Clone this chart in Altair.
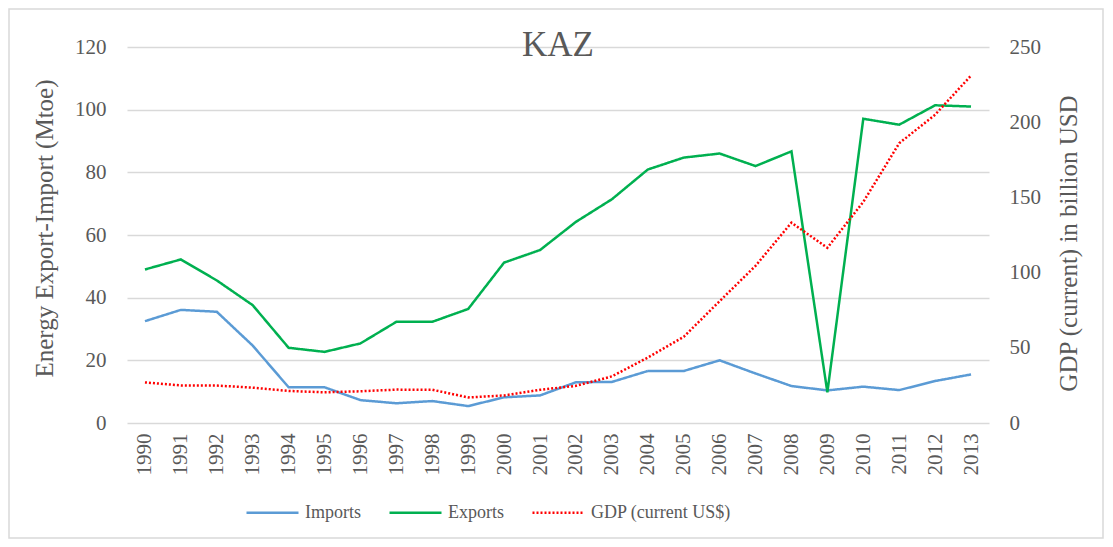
import altair as alt
import pandas as pd

years = ["1990", "1991", "1992", "1993", "1994", "1995", "1996", "1997", "1998", "1999",
         "2000", "2001", "2002", "2003", "2004", "2005", "2006", "2007", "2008", "2009",
         "2010", "2011", "2012", "2013"]
imports = [32.5, 36.1, 35.5, 24.7, 11.4, 11.4, 7.3, 6.3, 7.0, 5.4,
           8.2, 8.8, 13.0, 13.1, 16.6, 16.6, 20.0, 15.8, 11.8, 10.4,
           11.6, 10.5, 13.4, 15.5]
exports = [49.0, 52.2, 45.5, 37.6, 24.0, 22.7, 25.4, 32.3, 32.3, 36.4,
           51.2, 55.2, 64.2, 71.4, 80.9, 84.7, 86.0, 82.0, 86.7, 9.8,
           97.1, 95.2, 101.4, 101.0]
gdp = [27.0, 25.0, 24.9, 23.5, 21.3, 20.4, 21.1, 22.2, 22.1, 17.0,
       18.3, 22.1, 24.7, 31.0, 43.5, 57.3, 81.0, 104.5, 133.2, 116.5,
       147.0, 186.0, 205.0, 231.0]

series_names = ["Imports", "Exports", "GDP (current US$)"]
series_colors = ["#5B9BD5", "#00B050", "#FF0000"]
series_dash = [[1, 0], [1, 0], [2, 2]]
left_ticks = [0, 20, 40, 60, 80, 100, 120]
right_ticks = [0, 50, 100, 150, 200, 250]
chart_title = "KAZ"

rows = []
for name, vals in zip(series_names, [imports, exports, gdp]):
    for y, v in zip(years, vals):
        rows.append({"year": y, "series": name, "value": v})
df = pd.DataFrame(rows)

FONT = "Liberation Serif"
GREY = "#595959"

legend = alt.Legend(
    title=None, orient="none", direction="horizontal", legendX=118, legendY=438,
    symbolType="stroke", symbolSize=2704, symbolStrokeWidth=2.5,
    labelFont=FONT, labelFontSize=18, labelColor=GREY, labelOffset=5,
    columnPadding=23,
)
color = alt.Color("series:N", scale=alt.Scale(domain=series_names, range=series_colors), legend=legend)
dash = alt.StrokeDash("series:N", scale=alt.Scale(domain=series_names, range=series_dash), legend=legend)

x_enc = alt.X(
    "year:O", sort=years, scale=alt.Scale(type="point", padding=0.5),
    axis=alt.Axis(title=None, labelAngle=270, labelFont=FONT, labelFontSize=21, labelColor=GREY,
                  labelPadding=10, domain=False, ticks=False, grid=False),
)

border = alt.Chart(pd.DataFrame({"b": [0]})).mark_rect(
    fillOpacity=0, stroke="#d9d9d9", strokeWidth=1.5
).encode(x=alt.value(-118), x2=alt.value(976), y=alt.value(-38), y2=alt.value(491))

title = alt.Chart(pd.DataFrame({"t": [chart_title]})).mark_text(
    font=FONT, fontSize=35, color=GREY, align="center", baseline="alphabetic"
).encode(text="t:N", x=alt.value(431), y=alt.value(9))

left = alt.Chart(df).transform_filter(
    alt.FieldOneOfPredicate(field="series", oneOf=["Imports", "Exports"])
).mark_line(strokeWidth=2.5).encode(
    x=x_enc,
    y=alt.Y("value:Q", scale=alt.Scale(domain=[0, 120], nice=False),
            axis=alt.Axis(orient="left", values=left_ticks, title="Energy Export-Import (Mtoe)",
                          titleFont=FONT, titleFontSize=25, titleFontWeight="normal", titleColor=GREY,
                          titleAngle=270, titleX=-83, titleY=181, titleAlign="center", titleBaseline="middle",
                          labelFont=FONT, labelFontSize=21, labelColor=GREY, labelPadding=21,
                          domain=False, ticks=False, grid=True, gridColor="#d9d9d9", gridWidth=1.5)),
    color=color,
    strokeDash=dash,
)

right = alt.Chart(df).transform_filter(
    alt.FieldEqualPredicate(field="series", equal="GDP (current US$)")
).mark_line(strokeWidth=2.5).encode(
    x=x_enc,
    y=alt.Y("value:Q", scale=alt.Scale(domain=[0, 250], nice=False),
            axis=alt.Axis(orient="right", values=right_ticks, title="GDP (current) in billion USD",
                          titleFont=FONT, titleFontSize=25, titleFontWeight="normal", titleColor=GREY,
                          titleAngle=270, titleX=79, titleY=196, titleAlign="center", titleBaseline="middle",
                          labelFont=FONT, labelFontSize=21, labelColor=GREY, labelPadding=20, labelAlign="left",
                          domain=False, ticks=False, grid=False)),
    color=color,
    strokeDash=dash,
)

chart = alt.layer(border, left, right, title).resolve_scale(y="independent").properties(
    width=862, height=376,
    autosize=alt.AutoSizeParams(type="none"),
    padding={"left": 119, "top": 39, "right": 116, "bottom": 116},
    background="white",
).configure_view(strokeWidth=0)

chart.save("out.html", embed_options={"renderer": "svg", "actions": False})
